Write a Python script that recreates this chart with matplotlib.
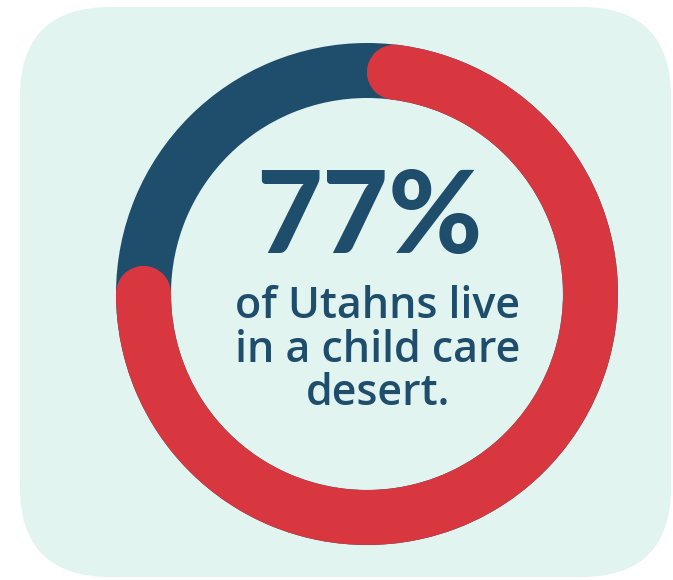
import matplotlib.pyplot as plt
from matplotlib.patches import Wedge, Circle, FancyBboxPatch
import numpy as np

# data
labels = ["Live in a child care desert", "Other"]
values = [77, 23]
headline = "77%"
caption = ["of Utahns live", "in a child care", "desert."]

RED = "#d8373f"
BLUE = "#1f4d6c"
MINT = "#e1f4ef"

W, H = 673, 580
fig = plt.figure(figsize=(W / 100, H / 100), dpi=100)
ax = fig.add_axes([0, 0, 1, 1])
ax.set_xlim(0, W)
ax.set_ylim(H, 0)
ax.set_aspect("equal")
ax.axis("off")

# card
card = FancyBboxPatch((20, 7), 651, 570, boxstyle="round,pad=0,rounding_size=90",
                      fc=MINT, ec="none")
ax.add_patch(card)

# ring
cx, cy = 367, 294
r_out = 251
width = 55
r_mid = r_out - width / 2

# full blue ring underneath
ax.add_patch(Wedge((cx, cy), r_out, 0, 360, width=width, fc=BLUE, ec="none"))

# red arc, clockwise from the top, round caps
share = values[0] / sum(values)
sweep = share * 360
inset = np.degrees((width / 2) / r_mid)
# y axis is inverted, so angles grow clockwise on screen
start = -90 + inset
end = -90 + sweep - inset
ax.add_patch(Wedge((cx, cy), r_out, start, end, width=width, fc=RED, ec="none"))
for a in (start, end):
    t = np.radians(a)
    ax.add_patch(Circle((cx + r_mid * np.cos(t), cy + r_mid * np.sin(t)), width / 2,
                        fc=RED, ec="none"))

# text
ax.text(cx + 2, 253, headline, ha="center", va="baseline", fontsize=82,
        fontweight="black", family="Lato", color=BLUE)
for i, line in enumerate(caption):
    ax.text(cx + 11, 318 + i * 43.5, line, ha="center", va="baseline", fontsize=31,
            fontweight="semibold", family="Open Sans", color=BLUE)

fig.savefig("out.png", dpi=100)
